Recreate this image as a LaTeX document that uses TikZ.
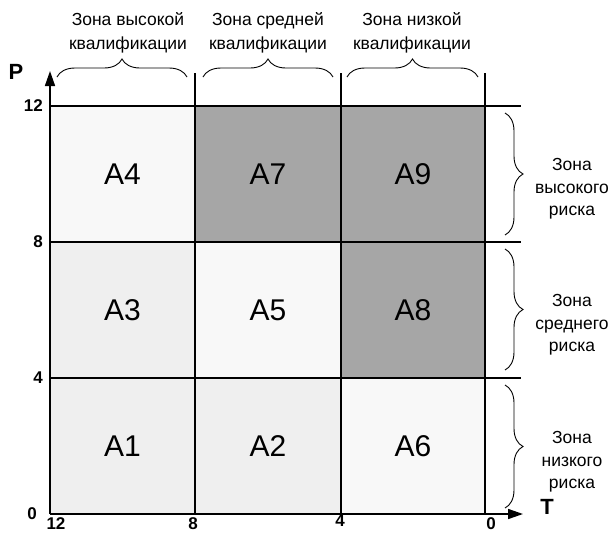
\documentclass[tikz,border=0pt]{standalone}
\usepackage{fontspec}
\setmainfont{Liberation Sans}
\usetikzlibrary{arrows.meta,decorations.pathreplacing}
\definecolor{cellhigh}{HTML}{A6A6A6}
\definecolor{cellpale}{HTML}{F8F8F8}
\definecolor{celllight}{HTML}{EFEFEF}
\begin{document}
\begin{tikzpicture}[x=1pt,y=-1pt,
  cell/.style={draw=none,minimum width=145pt,minimum height=136pt,inner sep=0pt,
    font=\fontsize{30}{30}\selectfont},
  gridline/.style={line width=1.2pt,black},
  axis/.style={line width=1.6pt,-{Triangle[length=15pt,width=10pt]}},
  tick/.style={font=\bfseries\fontsize{17}{17}\selectfont,inner sep=0pt},
  axlabel/.style={font=\bfseries\fontsize{22}{22}\selectfont,inner sep=0pt},
  zone/.style={align=center,font=\fontsize{17.5}{24}\selectfont,inner sep=0pt},
  rzone/.style={align=center,font=\fontsize{17.5}{22.5}\selectfont,inner sep=0pt},
  bracket/.style={decorate,decoration={brace,amplitude=18pt},line width=0.9pt}]
\useasboundingbox (0,0) rectangle (616,533);
\fill[white] (0,0) rectangle (616,533);

% cells of the matrix
\node[cell,fill=cellpale]  (a4) at (122.5,174) {A4};
\node[cell,fill=cellhigh]  (a7) at (268,174) {A7};
\node[cell,fill=cellhigh]  (a9) at (413,174) {A9};
\node[cell,fill=celllight] (a3) at (122.5,310) {A3};
\node[cell,fill=cellpale]  (a5) at (268,310) {A5};
\node[cell,fill=cellhigh]  (a8) at (413,310) {A8};
\node[cell,fill=celllight] (a1) at (122.5,446) {A1};
\node[cell,fill=celllight] (a2) at (268,446) {A2};
\node[cell,fill=cellpale]  (a6) at (413,446) {A6};

% grid lines
\coordinate (v1t) at (195,73);  \coordinate (v1b) at (195,514);
\coordinate (v2t) at (341,73);  \coordinate (v2b) at (341,514);
\coordinate (v3t) at (485,73);  \coordinate (v3b) at (485,514);
\coordinate (h1l) at (50,106);  \coordinate (h1r) at (521,106);
\coordinate (h2l) at (50,242);  \coordinate (h2r) at (521,242);
\coordinate (h3l) at (50,378);  \coordinate (h3r) at (521,378);
\draw[gridline] (v1t) -- (v1b);
\draw[gridline] (v2t) -- (v2b);
\draw[gridline] (v3t) -- (v3b);
\draw[gridline] (h1l) -- (h1r);
\draw[gridline] (h2l) -- (h2r);
\draw[gridline] (h3l) -- (h3r);

% axes
\coordinate (o) at (50,514);
\coordinate (ptip) at (50,71);
\coordinate (ttip) at (523,514);
\draw[gridline] (o) -- (v3b);
\draw[axis] (o) -- (ptip);
\draw[axis] (v3b) -- (ttip);
\node[axlabel] (plabel) at (16,72) {P};
\node[axlabel] (tlabel) at (547,507) {T};

% scale marks
\node[tick,anchor=east] (p12) at (43,106) {12};
\node[tick,anchor=east] (p8) at (43,242) {8};
\node[tick,anchor=east] (p4) at (43,378) {4};
\node[tick] (p0) at (32,514) {0};
\node[tick,anchor=north] (t12) at (56,517) {12};
\node[tick,anchor=north] (t8) at (193,517) {8};
\node[tick,anchor=north] (t4) at (340,515) {4};
\node[tick,anchor=north] (t0) at (491,517) {0};

% qualification zones
\coordinate (q1a) at (57,77);  \coordinate (q1b) at (187,77);
\coordinate (q2a) at (203,77); \coordinate (q2b) at (333,77);
\coordinate (q3a) at (347,77); \coordinate (q3b) at (478,77);
\draw[bracket] (q1a) -- (q1b);
\draw[bracket] (q2a) -- (q2b);
\draw[bracket] (q3a) -- (q3b);
\node[zone] (qz1) at (128,32.5) {Зона высокой\\квалификации};
\node[zone] (qz2) at (268,32.5) {Зона средней\\квалификации};
\node[zone] (qz3) at (412,32.5) {Зона низкой\\квалификации};

% risk zones
\coordinate (r1a) at (505,113); \coordinate (r1b) at (505,235);
\coordinate (r2a) at (505,249); \coordinate (r2b) at (505,370);
\coordinate (r3a) at (505,385); \coordinate (r3b) at (505,508);
\draw[bracket] (r1a) -- (r1b);
\draw[bracket] (r2a) -- (r2b);
\draw[bracket] (r3a) -- (r3b);
\node[rzone] (rz1) at (572,189) {Зона\\высокого\\риска};
\node[rzone] (rz2) at (572,325) {Зона\\среднего\\риска};
\node[rzone] (rz3) at (572,462) {Зона\\низкого\\риска};
\end{tikzpicture}
\end{document}
